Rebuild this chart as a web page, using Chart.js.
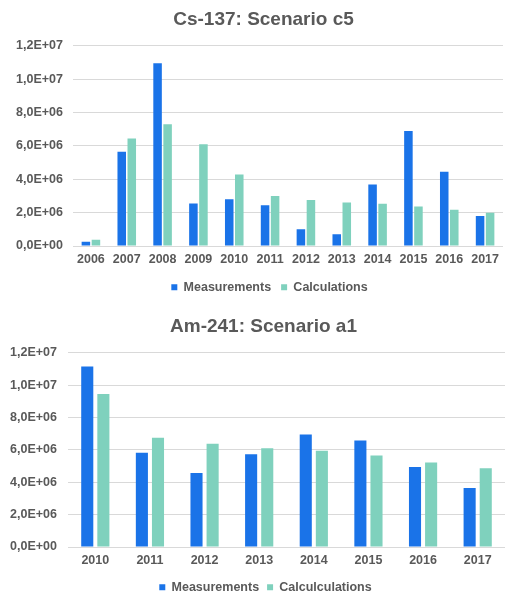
<!DOCTYPE html>
<html>
<head>
<meta charset="utf-8">
<script src="https://cdn.jsdelivr.net/npm/chart.js@4.4.1/dist/chart.umd.min.js"></script>
<style>
  html, body { margin: 0; padding: 0; background: #fff; }
  .box { position: absolute; left: 0; width: 505px; }
  #top { top: 0; height: 300px; }
  #bottom { top: 300px; height: 295px; }
</style>
</head>
<body>
<div class="box" id="top"><canvas id="csChart" width="505" height="300"></canvas></div>
<div class="box" id="bottom"><canvas id="amChart" width="505" height="295"></canvas></div>
<script>
// Cs-137, scenario c5
const csYears = ['2006', '2007', '2008', '2009', '2010', '2011', '2012', '2013', '2014', '2015', '2016', '2017'];
const csMeasured = [0.25e6, 5.65e6, 10.95e6, 2.55e6, 2.8e6, 2.45e6, 1.0e6, 0.7e6, 3.68e6, 6.9e6, 4.45e6, 1.8e6];
const csCalculated = [0.38e6, 6.45e6, 7.3e6, 6.1e6, 4.28e6, 3.0e6, 2.75e6, 2.6e6, 2.53e6, 2.37e6, 2.17e6, 2.0e6];

// Am-241, scenario a1
const amYears = ['2010', '2011', '2012', '2013', '2014', '2015', '2016', '2017'];
const amMeasured = [11.15e6, 5.82e6, 4.58e6, 5.73e6, 6.95e6, 6.58e6, 4.95e6, 3.65e6];
const amCalculated = [9.45e6, 6.75e6, 6.38e6, 6.1e6, 5.95e6, 5.65e6, 5.22e6, 4.86e6];

const yTicks = [0, 2e6, 4e6, 6e6, 8e6, 1e7, 1.2e7];

const BLUE = '#1a73e8';
const TEAL = '#7fd1bd';
const GREY = '#595959';
const FONT = "'Liberation Sans', Arial, sans-serif";

// 1,2E+07 style labels (comma decimal)
function sciLabel(v) {
    if (v === 0) return '0,0E+00';
    const exp = Math.floor(Math.log10(v) + 1e-9);
    const mant = (v / Math.pow(10, exp)).toFixed(1).replace('.', ',');
    return mant + 'E+' + String(exp).padStart(2, '0');
}

// fixes the legend's reserved height, then moves legend + title to where the original has them
const blockPlace = {
    id: 'blockPlace',
    beforeLayout(chart, args, o) {
        const lg = chart.legend;
        if (lg && !lg._fixed) {
            const fit = lg.fit.bind(lg);
            lg.fit = function () { fit(); this.height = o.legendH; };
            lg._fixed = true;
        }
    },
    afterLayout(chart, args, o) {
        const lg = chart.legend;
        if (lg) {
            const h = lg.bottom - lg.top;
            lg.top = o.legendY - lg.options.labels.padding - 7;
            lg.bottom = lg.top + h;
            lg.left += o.legendDx;
            lg.right += o.legendDx;
        }
        const tb = chart.titleBlock;
        if (tb) {
            tb.left += o.titleDx;
            tb.right += o.titleDx;
        }
    }
};

function makeChart(id, opts) {
    return new Chart(document.getElementById(id), {
        type: 'bar',
        data: {
            labels: opts.labels,
            datasets: [
                { label: 'Measurements', data: opts.measured, backgroundColor: BLUE,
                  categoryPercentage: opts.cat, barPercentage: opts.bar },
                { label: opts.calcLabel, data: opts.calculated, backgroundColor: TEAL,
                  categoryPercentage: opts.cat, barPercentage: opts.bar }
            ]
        },
        plugins: [blockPlace],
        options: {
            responsive: false,
            animation: false,
            layout: { padding: 0 },
            plugins: {
                title: {
                    display: true,
                    text: opts.title,
                    color: GREY,
                    font: { family: FONT, size: 19, weight: 'bold' },
                    padding: { top: opts.titleTop, bottom: opts.titleBottom }
                },
                legend: {
                    position: 'bottom',
                    labels: {
                        color: GREY,
                        font: { family: FONT, size: 12.5, weight: 'bold' },
                        usePointStyle: true,
                        pointStyle: 'rect',
                        boxWidth: 6,
                        boxHeight: 6,
                        padding: opts.legendGap
                    }
                },
                blockPlace: {
                    legendH: opts.legendH, legendY: opts.legendY,
                    legendDx: opts.legendDx, titleDx: opts.titleDx
                },
                tooltip: { enabled: false }
            },
            scales: {
                x: {
                    grid: { display: false, drawTicks: false },
                    border: { display: false },
                    ticks: {
                        color: GREY,
                        font: { family: FONT, size: 12.5, weight: 'bold' },
                        padding: opts.xPad,
                        maxRotation: 0,
                        autoSkip: false
                    }
                },
                y: {
                    min: 0,
                    max: 1.2e7,
                    afterBuildTicks: scale => { scale.ticks = yTicks.map(v => ({ value: v })); },
                    afterFit: scale => { scale.width = opts.yWidth; },
                    grid: { color: '#d9d9d9', lineWidth: 1, drawTicks: false },
                    border: { display: false },
                    ticks: {
                        color: GREY,
                        font: { family: FONT, size: 12.5, weight: 'bold' },
                        padding: opts.yPad,
                        callback: v => sciLabel(v)
                    }
                }
            }
        }
    });
}

makeChart('csChart', {
    title: 'Cs-137: Scenario c5',
    labels: csYears,
    measured: csMeasured,
    calculated: csCalculated,
    calcLabel: 'Calculations',
    cat: 0.56, bar: 0.85,
    yWidth: 73, yPad: 10,
    titleTop: 8, titleBottom: 15, titleDx: 11,
    xPad: 6, legendGap: 10, legendH: 27, legendY: 288, legendDx: 17
});

makeChart('amChart', {
    title: 'Am-241: Scenario a1',
    labels: amYears,
    measured: amMeasured,
    calculated: amCalculated,
    calcLabel: 'Calculculations',
    cat: 0.59, bar: 0.75,
    yWidth: 68, yPad: 11,
    titleTop: 15, titleBottom: 15, titleDx: 11,
    xPad: 6, legendGap: 8, legendH: 21, legendY: 288, legendDx: 13
});
</script>
</body>
</html>
